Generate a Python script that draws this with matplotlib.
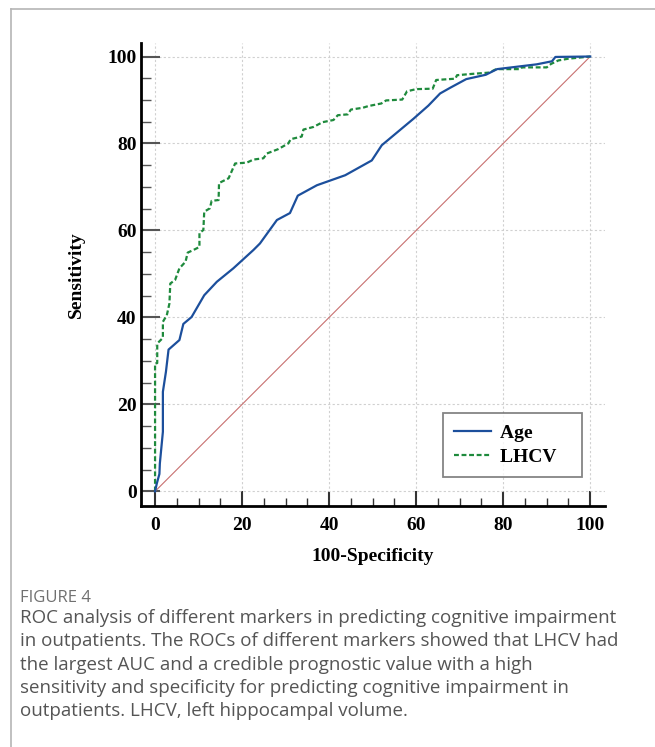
import numpy as np
import matplotlib
matplotlib.use('Agg')
import matplotlib.pyplot as plt
from matplotlib.ticker import MultipleLocator

plt.rcParams['font.family'] = ['Liberation Serif', 'DejaVu Serif']

# ROC curves (100-specificity, sensitivity)
age_x = [0, 0.4, 1.0, 1.1, 1.8, 1.8, 2.5, 3.1, 5.6, 6.5, 8.4, 11.3, 14.2, 18.0, 22.6, 24.1,
         28.0, 31.0, 32.8, 37.2, 43.7, 49.8, 52.1, 59.4, 62.8, 65.5, 67.8, 71.5, 76.0,
         78.6, 87.7, 91.2, 92.0, 100]
age_y = [0, 1.8, 4.0, 6.4, 13.7, 22.9, 27.5, 32.6, 34.8, 38.5, 40.1, 45.1, 48.2, 51.3, 55.5, 57.0,
         62.4, 64.0, 68.0, 70.4, 72.7, 76.1, 79.6, 85.7, 88.7, 91.5, 92.8, 94.8, 95.8,
         97.1, 98.2, 98.9, 99.9, 100]

lhcv_x = [0, 0, 0.5, 0.5, 1.8, 1.8, 2.7, 3.3, 3.5, 4.6, 5.6, 7.0, 7.5, 8.8, 10.2, 10.2, 11.1,
          11.3, 12.6, 13.0, 14.6, 14.7, 16.9, 18.4, 21.1, 22.6, 24.9, 25.7, 28.3, 30.6, 31.2,
          33.7, 34.1, 36.4, 38.5, 41.0, 42.0, 44.3, 45.0, 47.7, 49.0, 52.0, 53.1, 56.8, 57.9,
          60.0, 63.8, 64.6, 69.0, 69.4, 72.8, 76.8, 78.4, 84.0, 84.3, 90.0, 91.0, 92.7, 95.0, 100]
lhcv_y = [0, 29.4, 29.5, 34.0, 35.3, 39.0, 40.5, 43.2, 47.8, 48.6, 51.3, 52.8, 54.9, 55.5, 56.2,
          59.4, 60.1, 64.3, 65.1, 66.8, 67.0, 70.9, 72.0, 75.4, 75.6, 76.3, 76.6, 77.7, 78.7,
          80.0, 81.0, 81.6, 83.2, 83.8, 84.9, 85.4, 86.5, 86.7, 87.8, 88.2, 88.6, 89.2, 89.9,
          90.1, 92.0, 92.5, 92.6, 94.6, 94.9, 95.7, 96.0, 96.3, 97.1, 97.1, 97.5, 97.5, 98.3,
          99.1, 99.5, 100]

ref_line = [0, 100]

caption_title = 'FIGURE 4'
caption_lines = [
    'ROC analysis of different markers in predicting cognitive impairment',
    'in outpatients. The ROCs of different markers showed that LHCV had',
    'the largest AUC and a credible prognostic value with a high',
    'sensitivity and specificity for predicting cognitive impairment in',
    'outpatients. LHCV, left hippocampal volume.',
]

fig = plt.figure(figsize=(6.55, 7.47), dpi=100)

# page frame lines (top and left)
fig.add_artist(plt.Line2D([10.7 / 655, 1], [1 - 9 / 747, 1 - 9 / 747], color='#b5b5b5', lw=1.2))
fig.add_artist(plt.Line2D([10.7 / 655, 10.7 / 655], [0, 1 - 9 / 747], color='#b5b5b5', lw=1.2))

ax = fig.add_axes([0.2148, 0.3230, 0.7089, 0.6194])

ax.plot(ref_line, ref_line, color='#c87070', lw=0.8, zorder=2)
ax.plot(age_x, age_y, color='#1c4f9c', lw=1.6, label='Age', zorder=4)
ax.plot(lhcv_x, lhcv_y, color='#1e8a3c', lw=1.6, ls=(0, (2.2, 1.2)), label='LHCV', zorder=3)

ax.set_xlim(-3.3, 103.4)
ax.set_ylim(-3.3, 103.1)

for s in ['top', 'right']:
    ax.spines[s].set_visible(False)
for s in ['left', 'bottom']:
    ax.spines[s].set_linewidth(2)
    ax.spines[s].set_color('black')

ax.xaxis.set_major_locator(MultipleLocator(20))
ax.yaxis.set_major_locator(MultipleLocator(20))
ax.xaxis.set_minor_locator(MultipleLocator(5))
ax.yaxis.set_minor_locator(MultipleLocator(5))

ax.tick_params(axis='y', which='major', direction='in', length=14, width=1.5, color='#555555', pad=3)
ax.tick_params(axis='y', which='minor', direction='in', length=7, width=1, color='#555555')
ax.tick_params(axis='x', which='major', direction='in', length=11, width=1.5, color='#333333', pad=8)
ax.tick_params(axis='x', which='minor', direction='in', length=6, width=1, color='#333333')

for lab in ax.get_xticklabels() + ax.get_yticklabels():
    lab.set_fontsize(14)
    lab.set_fontweight('bold')

ax.grid(True, which='major', color='#d0d0d0', lw=0.8, ls=(0, (2, 2)))
ax.set_axisbelow(True)

ax.set_xlabel('100-Specificity', fontsize=14, fontweight='bold', labelpad=10)
ax.set_ylabel('Sensitivity', fontsize=14, fontweight='bold', labelpad=16)

leg = ax.legend(loc='lower right', bbox_to_anchor=(0.950, 0.0627), fancybox=False,
                frameon=True, edgecolor='#666666', prop={'size': 14, 'weight': 'bold'},
                handlelength=1.9, handletextpad=0.5, labelspacing=0.35, borderpad=0.55,
                borderaxespad=0)
leg.get_frame().set_linewidth(1.3)
for t in leg.get_texts():
    t.set_text(t.get_text() + '   ')

fig.text(20 / 655, 1 - 598 / 747, caption_title, fontsize=12, color='#707070',
         family='Open Sans', va='center', ha='left')
for i, line in enumerate(caption_lines):
    fig.text(20 / 655, 1 - (618 + i * 23.3) / 747, line, fontsize=13.5, color='#555555',
             family='Open Sans', va='center', ha='left')

fig.savefig('out.png', dpi=100)
